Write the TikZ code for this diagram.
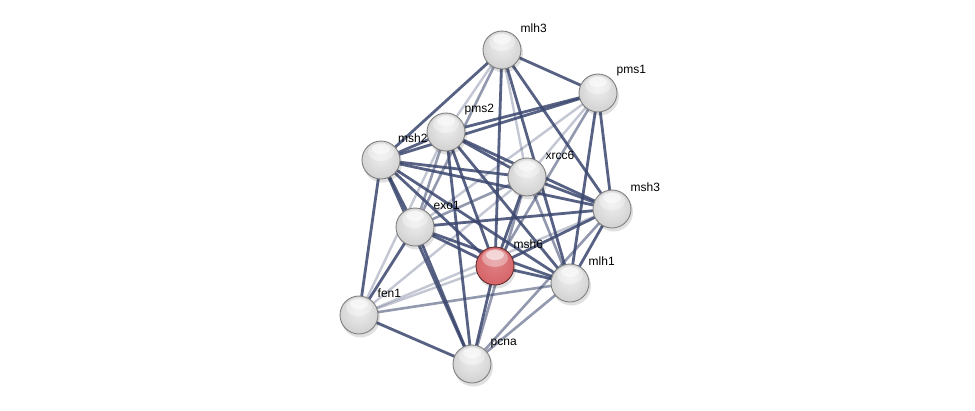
\documentclass[tikz,border=0pt]{standalone}
\usepackage{fontspec}
\setmainfont{Liberation Sans}
\usetikzlibrary{calc}
\definecolor{edgec}{RGB}{58,70,110}
\definecolor{redball}{RGB}{214,100,104}
\pgfdeclareradialshading{graysphere}{\pgfpoint{0bp}{6bp}}{color(0bp)=(white!93!black); color(14bp)=(white!88!black); color(28bp)=(white!82!black); color(40bp)=(white!86!black); color(50bp)=(white!70!black); color(60bp)=(white!55!black)}
\pgfdeclareradialshading{redsphere}{\pgfpoint{0bp}{6bp}}{color(0bp)=(redball!80!white); color(14bp)=(redball!90!white); color(28bp)=(redball); color(40bp)=(redball!85!white); color(50bp)=(redball!75!black); color(60bp)=(redball!50!black)}
\tikzset{
  hl/.style={path picture={
     \fill[white,opacity=0.35] ($(path picture bounding box.center)+(0,-8)$) ellipse (13pt and 9pt);
     \fill[white,opacity=0.55] ($(path picture bounding box.center)+(0,-11)$) ellipse (9pt and 5pt);}},
  prot/.style={circle, minimum size=38pt, inner sep=0pt, shading=graysphere, draw=black!50, line width=0.9pt, hl},
  protred/.style={circle, minimum size=38pt, inner sep=0pt, shading=redsphere, draw=redball!45!black, line width=0.9pt, hl},
  shad/.style={fill=black, opacity=0.12},
  lab/.style={anchor=west, inner sep=0pt, font=\fontsize{12}{13}\selectfont, text=black},
  es/.style={draw=edgec, line width=2.8pt, opacity=0.85},
  em/.style={draw=edgec, line width=2.6pt, opacity=0.55},
  ew/.style={draw=edgec, line width=2.4pt, opacity=0.3},
}
\begin{document}
\begin{tikzpicture}[x=1pt,y=-1pt]
\useasboundingbox[fill=white] (0,0) rectangle (975,410);
% node positions
\coordinate (cmlh3) at (502,50);
\coordinate (cpms1) at (598,93);
\coordinate (cpms2) at (446,132);
\coordinate (cmsh2) at (381,160);
\coordinate (cxrcc6) at (527,177);
\coordinate (cmsh3) at (612,209);
\coordinate (cexo1) at (415,227);
\coordinate (cmsh6) at (495,266);
\coordinate (cmlh1) at (570,283);
\coordinate (cfen1) at (359,315);
\coordinate (cpcna) at (472,364);
% edges
\draw[es] (cmlh3) -- (cpms1);
\draw[es] (cmlh3) -- (cmsh2);
\draw[ew] (cmlh3) -- (cpms2);
\draw[em] (cmlh3) -- (cexo1);
\draw[es] (cmlh3) -- (cmsh6);
\draw[ew] (cmlh3) -- (cxrcc6);
\draw[es] (cmlh3) -- (cmlh1);
\draw[es] (cmlh3) -- (cmsh3);
\draw[es] (cpms1) -- (cpms2);
\draw[es] (cpms1) -- (cmsh2);
\draw[ew] (cpms1) -- (cxrcc6);
\draw[ew] (cpms1) -- (cexo1);
\draw[em] (cpms1) -- (cmsh6);
\draw[es] (cpms1) -- (cmsh3);
\draw[es] (cpms1) -- (cmlh1);
\draw[es] (cpms2) -- (cmsh2);
\draw[es] (cpms2) -- (cxrcc6);
\draw[em] (cpms2) -- (cexo1);
\draw[es] (cpms2) -- (cmsh6);
\draw[es] (cpms2) -- (cmlh1);
\draw[es] (cpms2) -- (cmsh3);
\draw[ew] (cpms2) -- (cfen1);
\draw[es] (cpms2) -- (cpcna);
\draw[es] (cmsh2) -- (cxrcc6);
\draw[es] (cmsh2) -- (cexo1);
\draw[es] (cmsh2) -- (cmsh6);
\draw[es] (cmsh2) -- (cmlh1);
\draw[es] (cmsh2) -- (cmsh3);
\draw[es] (cmsh2) -- (cfen1);
\draw[es] (cmsh2) -- (cpcna);
\draw[em] (cxrcc6) -- (cexo1);
\draw[es] (cxrcc6) -- (cmsh6);
\draw[em] (cxrcc6) -- (cmlh1);
\draw[es] (cxrcc6) -- (cmsh3);
\draw[ew] (cxrcc6) -- (cfen1);
\draw[em] (cxrcc6) -- (cpcna);
\draw[es] (cexo1) -- (cmsh6);
\draw[es] (cexo1) -- (cmlh1);
\draw[es] (cexo1) -- (cmsh3);
\draw[es] (cexo1) -- (cfen1);
\draw[es] (cexo1) -- (cpcna);
\draw[es] (cmsh6) -- (cmlh1);
\draw[es] (cmsh6) -- (cmsh3);
\draw[ew] (cmsh6) -- (cfen1);
\draw[es] (cmsh6) -- (cpcna);
\draw[es] (cmlh1) -- (cmsh3);
\draw[em] (cmlh1) -- (cfen1);
\draw[em] (cmlh1) -- (cpcna);
\draw[em] (cmsh3) -- (cpcna);
\draw[ew] (cmsh3) -- (cfen1);
\draw[es] (cfen1) -- (cpcna);
% shadows
\foreach \c in {cmlh3,cpms1,cpms2,cmsh2,cxrcc6,cmsh3,cexo1,cmsh6,cmlh1,cfen1,cpcna}
  \fill[shad] ($(\c)+(1.5,3)$) circle (19.5pt);
% nodes
\node[prot] (mlh3) at (cmlh3) {};
\node[prot] (pms1) at (cpms1) {};
\node[prot] (pms2) at (cpms2) {};
\node[prot] (msh2) at (cmsh2) {};
\node[prot] (xrcc6) at (cxrcc6) {};
\node[prot] (msh3) at (cmsh3) {};
\node[prot] (exo1) at (cexo1) {};
\node[protred] (msh6) at (cmsh6) {};
\node[prot] (mlh1) at (cmlh1) {};
\node[prot] (fen1) at (cfen1) {};
\node[prot] (pcna) at (cpcna) {};
% labels
\node[lab] (lmlh3) at ($(cmlh3)+(18.5,-22)$) {mlh3};
\node[lab] (lpms1) at ($(cpms1)+(18.5,-22)$) {pms1};
\node[lab] (lpms2) at ($(cpms2)+(18.5,-22)$) {pms2};
\node[lab] (lmsh2) at ($(cmsh2)+(17,-22)$) {msh2};
\node[lab] (lxrcc6) at ($(cxrcc6)+(18.5,-22)$) {xrcc6};
\node[lab] (lmsh3) at ($(cmsh3)+(18.5,-22)$) {msh3};
\node[lab] (lexo1) at ($(cexo1)+(18.5,-22)$) {exo1};
\node[lab] (lmsh6) at ($(cmsh6)+(18.5,-22)$) {msh6};
\node[lab] (lmlh1) at ($(cmlh1)+(18.5,-22)$) {mlh1};
\node[lab] (lfen1) at ($(cfen1)+(18.5,-22)$) {fen1};
\node[lab] (lpcna) at ($(cpcna)+(18.5,-20)$) {pcna};
\end{tikzpicture}
\end{document}
